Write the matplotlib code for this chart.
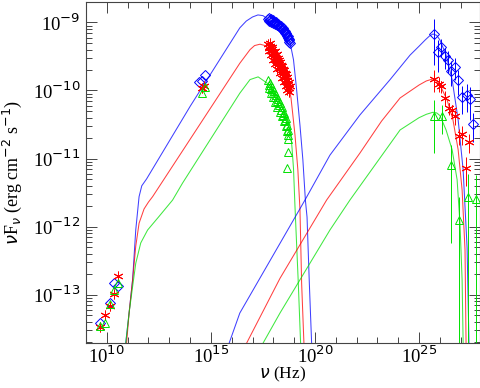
import numpy as np
import matplotlib
matplotlib.use("Agg")
import matplotlib.pyplot as plt
from matplotlib.ticker import FixedLocator, NullFormatter, FuncFormatter

# ---------------- data (log10 nu [Hz], log10 nuFnu [erg cm^-2 s^-1]) ----------------
# model curves: synchrotron component
blue_sync_lognu = [10.89, 10.91, 11.07, 11.24, 11.39, 11.55, 11.68, 11.91, 14.01, 16.39, 16.70, 17.00, 17.26, 17.50,
                   17.74, 18.00, 18.32, 18.55, 18.80, 18.97, 19.11, 19.28, 19.42, 19.54, 19.62, 19.73, 19.84, 19.86]
blue_sync_logf = [-13.85, -13.71, -13.27, -12.78, -12.05, -11.56, -11.40, -11.30, -10.23, -9.08, -8.98, -8.92, -8.89, -8.90,
                  -8.95, -8.99, -9.07, -9.15, -9.29, -9.55, -9.96, -10.51, -11.02, -11.61, -11.86, -12.83, -13.71, -13.85]
red_sync_lognu = [10.93, 10.95, 11.07, 11.24, 11.39, 11.55, 11.79, 12.00, 12.20, 16.39, 16.88, 17.10, 17.36, 17.60,
                  17.84, 18.10, 18.32, 18.50, 18.66, 18.85, 19.04, 19.18, 19.28, 19.36, 19.47, 19.49]
red_sync_logf = [-13.85, -13.71, -13.27, -12.78, -12.29, -11.95, -11.74, -11.64, -11.56, -9.60, -9.40, -9.34, -9.32, -9.34,
                 -9.40, -9.48, -9.58, -9.70, -9.81, -10.11, -10.65, -11.17, -11.75, -12.83, -13.71, -13.85]
green_sync_lognu = [10.89, 10.91, 11.07, 11.24, 11.39, 11.63, 11.96, 12.51, 13.16, 13.64, 16.39, 16.88, 17.27, 17.74,
                    18.22, 18.56, 18.80, 18.90, 18.97, 19.04, 19.20, 19.31, 19.33]
green_sync_logf = [-13.85, -13.71, -13.27, -12.88, -12.54, -12.24, -12.05, -11.85, -11.61, -11.36, -10.04, -9.84, -9.80, -9.90,
                   -10.09, -10.31, -10.50, -10.85, -11.15, -11.70, -12.83, -13.71, -13.85]

# model curves: inverse Compton component
blue_ic_lognu = [15.80, 15.88, 16.39, 19.52, 20.72, 22.16, 23.61, 24.57, 25.00, 25.29, 25.50, 25.67, 25.85, 26.01,
                 26.30, 26.59, 26.88, 27.12, 27.31, 27.40, 27.42]
blue_ic_logf = [-13.85, -13.71, -13.27, -11.61, -10.95, -10.36, -9.84, -9.48, -9.35, -9.26, -9.20, -9.17, -9.19, -9.26,
                -9.48, -9.84, -10.43, -11.17, -12.31, -13.71, -13.85]
red_ic_lognu = [16.65, 16.72, 18.32, 20.56, 22.16, 23.20, 24.09, 25.00, 25.35, 25.67, 25.85, 26.01, 26.35, 26.63,
                26.88, 27.07, 27.21, 27.26, 27.27]
red_ic_logf = [-13.85, -13.71, -12.76, -11.61, -10.92, -10.45, -10.11, -9.92, -9.86, -9.83, -9.85, -9.92, -10.14, -10.43,
               -10.87, -11.46, -12.34, -13.71, -13.85]
green_ic_lognu = [17.45, 17.51, 18.32, 20.72, 21.68, 24.09, 25.00, 25.35, 25.67, 25.85, 26.01, 26.30, 26.59, 26.83,
                  26.97, 27.07, 27.12, 27.13]
green_ic_logf = [-13.85, -13.71, -13.27, -12.05, -11.61, -10.58, -10.40, -10.35, -10.32, -10.33, -10.37, -10.58, -10.87,
                 -11.31, -11.97, -12.78, -13.71, -13.85]

# observed points: radio + optical + X-ray
blue_obs_lognu = [9.67, 10.15, 10.34, 10.55, 14.44, 14.59, 14.71,
                  17.74, 17.79, 17.84, 17.88, 17.93, 17.98, 18.03, 18.08, 18.13, 18.17, 18.22, 18.27, 18.32, 18.37,
                  18.41, 18.46, 18.51, 18.56, 18.61, 18.65, 18.70, 18.75, 18.77,
                  17.78, 17.90, 18.00, 18.12, 18.24, 18.35, 18.45, 18.55, 18.63, 18.70, 18.76, 18.79]
blue_obs_logf = [-13.41, -13.12, -12.83, -12.87, -9.88, -9.86, -9.77,
                 -8.95, -8.98, -8.96, -8.99, -8.98, -9.01, -8.99, -9.02, -9.01, -9.04, -9.04, -9.05, -9.07, -9.08,
                 -9.10, -9.11, -9.12, -9.15, -9.17, -9.20, -9.23, -9.26, -9.29,
                 -8.93, -8.95, -8.97, -8.99, -9.02, -9.05, -9.08, -9.12, -9.15, -9.20, -9.24, -9.30]
red_obs_lognu = [9.67, 9.90, 10.15, 10.34, 10.55, 14.55, 14.66,
                 17.74, 17.79, 17.84, 17.88, 17.93, 17.98, 18.03, 18.08, 18.13, 18.17, 18.22, 18.27, 18.32, 18.37,
                 18.41, 18.46, 18.51, 18.56, 18.61, 18.65, 18.70, 18.75, 18.75,
                 17.86, 17.96, 18.06, 18.16, 18.26, 18.36, 18.46, 18.56, 18.66, 18.74, 18.78,
                 17.80, 17.90, 18.00, 18.10, 18.20, 18.30, 18.40, 18.50, 18.60, 18.68]
red_obs_logf = [-13.48, -13.30, -13.16, -12.99, -12.72, -9.97, -9.93,
                -9.32, -9.37, -9.35, -9.42, -9.39, -9.46, -9.43, -9.51, -9.48, -9.55, -9.52, -9.61, -9.58, -9.67,
                -9.64, -9.73, -9.70, -9.79, -9.76, -9.84, -9.90, -9.96, -10.02,
                -9.30, -9.36, -9.42, -9.47, -9.55, -9.62, -9.68, -9.74, -9.80, -9.88, -9.94,
                -9.42, -9.48, -9.55, -9.61, -9.68, -9.74, -9.81, -9.87, -9.94, -10.00]
green_obs_lognu = [9.67, 9.90, 10.15, 10.34, 10.55, 14.55, 14.74,
                   17.74, 17.79, 17.84, 17.88, 17.93, 17.98, 18.03, 18.08, 18.13, 18.17, 18.22, 18.27, 18.32, 18.37,
                   18.41, 18.46, 18.51, 18.56, 18.61, 18.65, 18.70, 18.70, 18.72, 18.65,
                   17.80, 17.90, 18.00, 18.10, 18.20, 18.30, 18.40, 18.50, 18.60, 18.68, 18.72]
green_obs_logf = [-13.46, -13.42, -13.13, -12.93, -12.83, -10.04, -9.95,
                  -9.84, -9.92, -9.89, -9.98, -9.95, -10.04, -10.01, -10.09, -10.06, -10.15, -10.12, -10.21, -10.18,
                  -10.28, -10.25, -10.36, -10.33, -10.43, -10.40, -10.50, -10.58, -10.65, -10.90, -11.14,
                  -9.97, -10.03, -10.10, -10.17, -10.24, -10.31, -10.38, -10.45, -10.52, -10.60, -10.72]

# gamma-ray points with relative (linear) errors
blue_gam_lognu = [25.74, 26.06, 25.93, 26.25, 26.41, 26.54, 26.73, 26.89, 27.05, 27.29, 27.45, 27.61]
blue_gam_logf = [-9.17, -9.36, -9.43, -9.50, -9.55, -9.71, -9.66, -9.84, -10.09, -10.06, -10.13, -10.49]
blue_gam_relerr = [0.65, 0.30, 0.50, 0.35, 0.35, 0.40, 0.35, 0.40, 0.45, 0.45, 0.50, 0.45]
red_gam_lognu = [25.74, 25.94, 26.06, 26.25, 26.46, 26.57, 26.75, 26.90, 27.07, 27.26, 27.40]
red_gam_logf = [-9.83, -9.90, -9.94, -10.11, -10.26, -10.29, -10.38, -10.67, -10.64, -11.14, -10.76]
red_gam_relerr = [0.35, 0.25, 0.20, 0.25, 0.20, 0.20, 0.25, 0.25, 0.30, 0.45, 0.30]
green_gam_lognu = [25.74, 26.12, 26.52, 26.94, 27.34, 27.74]
green_gam_logf = [-10.37, -10.38, -11.09, -11.91, -11.57, -11.59]
green_gam_relerr = [0.72, 0.45, 0.93, 1.20, 1.20, 1.20]

x_major = [1e10, 1e15, 1e20, 1e25]

# ---------------- figure ----------------
W, H = 481, 388
fig = plt.figure(figsize=(W / 100, H / 100), dpi=100)
ax = fig.add_axes([86 / W, 1 - 343 / H, (480 - 86) / W, (343 - 2) / H])

plt.rcParams['mathtext.fontset'] = 'stix'
serif = 'Liberation Serif'

BLUE, RED, GREEN = '#0000ff', '#ff0000', '#00e000'
LW = 0.75


def P(a):
    return 10 ** np.asarray(a, dtype=float)


for lx, ly, c in [(blue_sync_lognu, blue_sync_logf, BLUE), (red_sync_lognu, red_sync_logf, RED),
                  (green_sync_lognu, green_sync_logf, GREEN), (blue_ic_lognu, blue_ic_logf, BLUE),
                  (red_ic_lognu, red_ic_logf, RED), (green_ic_lognu, green_ic_logf, GREEN)]:
    ax.plot(P(lx), P(ly), color=c, lw=LW, alpha=0.75)

mk = {
    BLUE: dict(marker='D', ms=5.2, mfc='none', mew=0.7),
    RED: dict(marker=(6, 2, 0), ms=7, mew=0.7),
    GREEN: dict(marker='^', ms=5.6, mfc='none', mew=0.7),
}

for lx, ly, c in [(blue_obs_lognu, blue_obs_logf, BLUE), (red_obs_lognu, red_obs_logf, RED),
                  (green_obs_lognu, green_obs_logf, GREEN)]:
    ax.plot(P(lx), P(ly), ls='none', color=c, **mk[c])

for lx, ly, rel, c in [(blue_gam_lognu, blue_gam_logf, blue_gam_relerr, BLUE),
                       (red_gam_lognu, red_gam_logf, red_gam_relerr, RED),
                       (green_gam_lognu, green_gam_logf, green_gam_relerr, GREEN)]:
    v = P(ly)
    e = v * np.asarray(rel)
    lo = np.minimum(e, v - 1e-20)
    ax.errorbar(P(lx), v, yerr=[lo, e], fmt='none', ecolor=c, elinewidth=0.7, capsize=0)
    ax.plot(P(lx), v, ls='none', color=c, **mk[c])

ax.set_xscale('log')
ax.set_yscale('log')
ax.set_xlim(1e9, 10 ** 27.93)
ax.set_ylim(10 ** -13.71, 10 ** -8.70)

ax.xaxis.set_major_locator(FixedLocator(x_major))
ax.xaxis.set_minor_locator(FixedLocator([10.0 ** k for k in range(9, 28)]))
ax.xaxis.set_minor_formatter(NullFormatter())
ax.yaxis.set_major_locator(FixedLocator([10.0 ** k for k in range(-14, -7)]))
ax.yaxis.set_minor_locator(FixedLocator([m * 10.0 ** k for k in range(-15, -7) for m in range(2, 10)]))
ax.yaxis.set_minor_formatter(NullFormatter())

fmt = FuncFormatter(lambda v, p: r'10$^{%d}$' % int(round(np.log10(v))))
ax.xaxis.set_major_formatter(fmt)
ax.yaxis.set_major_formatter(fmt)

ax.tick_params(which='both', direction='in', top=True, right=True, width=0.7, color='#444444')
ax.tick_params(which='major', length=8, labelsize=13.5)
ax.tick_params(axis='y', which='major', pad=4)
ax.tick_params(axis='x', which='major', pad=2)
ax.tick_params(which='minor', length=4)
for lab in ax.get_xticklabels() + ax.get_yticklabels():
    lab.set_family(serif)
for s in ax.spines.values():
    s.set_linewidth(0.8)
    s.set_color('#444444')

ax.set_xlabel(r'$\nu$ (Hz)', fontsize=12.5, family=serif, labelpad=-2)
ax.set_ylabel(r'$\nu$F$_\nu$ (erg cm$^{-2}$ s$^{-1}$)', fontsize=13, family=serif, labelpad=6)

fig.savefig('out.png', dpi=100)
